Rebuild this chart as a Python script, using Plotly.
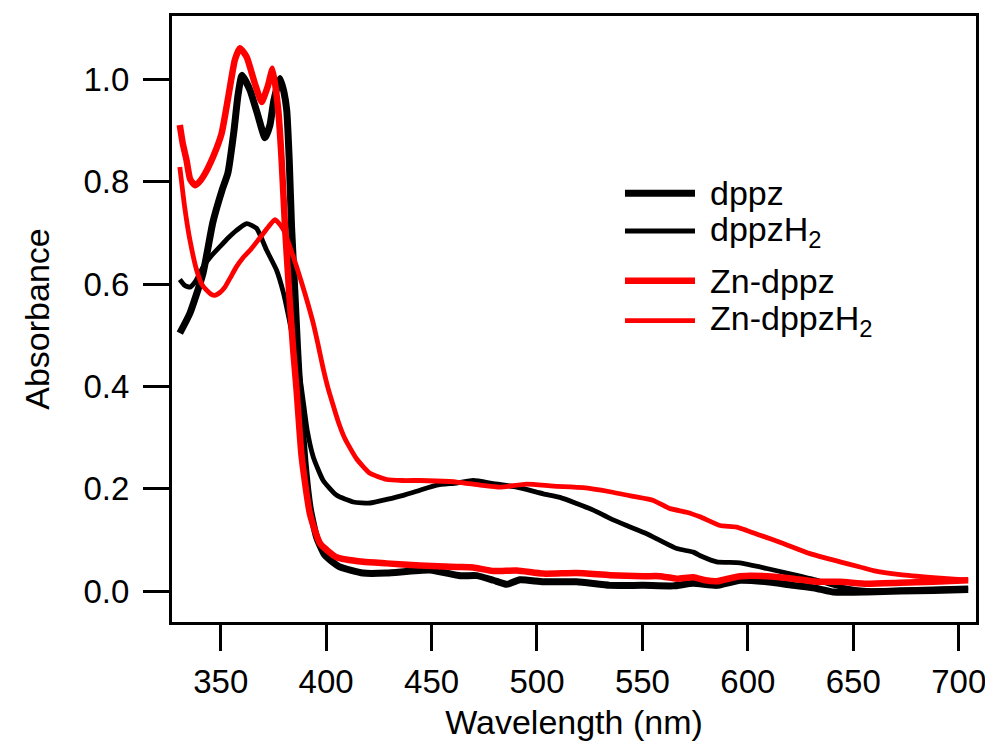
import plotly.graph_objects as go

# UV-vis absorption spectra (wavelength in nm, absorbance)
dppz_nm = [330.6, 335.4, 341.6, 346.3, 350.6, 353.4, 356.3, 358.2, 360.1, 363.9, 367.6, 371.0,
           373.3, 375.2, 378.1, 380.0, 381.3, 382.5, 383.6, 385.2, 386.5, 388.0, 390.0, 392.5,
           395.5, 399.4, 406.5, 417.5, 428.7, 449.2, 463.6, 471.4, 479.3, 485.6, 491.9, 503.0,
           518.8, 534.6, 550.3, 564.5, 574.0, 585.2, 596.3, 609.0, 621.6, 632.7, 640.6, 656.4,
           672.2, 688.0, 704.5]
dppz_abs = [0.504, 0.543, 0.621, 0.721, 0.783, 0.817, 0.900, 0.969, 1.008, 0.979, 0.930, 0.886,
            0.910, 0.959, 1.002, 0.975, 0.940, 0.842, 0.712, 0.582, 0.470, 0.360, 0.250, 0.160,
            0.105, 0.070, 0.047, 0.035, 0.035, 0.041, 0.030, 0.030, 0.021, 0.013, 0.022, 0.018,
            0.018, 0.011, 0.011, 0.010, 0.015, 0.011, 0.021, 0.018, 0.011, 0.005, -0.002, -0.002,
            0.000, 0.001, 0.003]

dppzH2_nm = [330.6, 333.0, 335.4, 338.0, 341.7, 345.5, 349.6, 353.5, 357.5, 362.3, 367.0, 371.8,
             376.5, 379.6, 383.0, 385.5, 387.5, 389.5, 391.0, 393.9, 398.6, 405.0, 412.9, 420.8,
             428.7, 436.6, 444.5, 452.4, 461.9, 469.8, 479.3, 490.4, 503.0, 510.9, 518.8, 526.7,
             534.6, 542.5, 552.0, 558.3, 566.3, 574.1, 578.0, 585.2, 596.3, 609.0, 621.6, 632.7,
             643.7, 656.4, 672.2, 688.0, 704.5]
dppzH2_abs = [0.609, 0.597, 0.594, 0.605, 0.634, 0.655, 0.673, 0.690, 0.705, 0.718, 0.709, 0.666,
              0.627, 0.585, 0.520, 0.465, 0.420, 0.360, 0.315, 0.262, 0.216, 0.187, 0.174, 0.172,
              0.179, 0.187, 0.197, 0.207, 0.211, 0.216, 0.210, 0.203, 0.190, 0.183, 0.171, 0.158,
              0.142, 0.128, 0.112, 0.099, 0.083, 0.076, 0.068, 0.057, 0.055, 0.044, 0.032, 0.021,
              0.008, 0.001, 0.002, 0.004, 0.006]

zn_dppz_nm = [330.6, 332.0, 333.8, 335.5, 337.8, 339.5, 341.7, 346.4, 350.4, 353.6, 356.7, 359.1,
              362.3, 366.2, 369.4, 372.5, 374.6, 377.3, 378.9, 380.5, 382.5, 384.4, 386.0, 388.4,
              392.3, 397.1, 405.0, 417.6, 428.7, 444.5, 461.9, 469.8, 479.3, 490.4, 503.0, 518.8,
              534.6, 550.4, 558.3, 566.3, 574.1, 580.0, 585.2, 596.3, 609.0, 621.6, 632.7, 643.7,
              656.4, 672.2, 688.0, 704.5]
zn_dppz_abs = [0.911, 0.875, 0.842, 0.805, 0.793, 0.798, 0.810, 0.849, 0.894, 0.966, 1.038, 1.061,
               1.044, 0.992, 0.956, 0.989, 1.021, 0.940, 0.842, 0.712, 0.581, 0.470, 0.392, 0.262,
               0.151, 0.093, 0.066, 0.057, 0.054, 0.050, 0.047, 0.046, 0.039, 0.040, 0.034, 0.035,
               0.031, 0.029, 0.029, 0.024, 0.027, 0.021, 0.019, 0.029, 0.029, 0.024, 0.018, 0.018,
               0.014, 0.016, 0.018, 0.021]

zn_dppzH2_nm = [330.6, 332.9, 335.4, 338.6, 341.0, 343.3, 345.5, 347.2, 349.5, 352.0, 354.5, 357.5,
                360.5, 363.9, 367.0, 370.2, 373.0, 375.7, 378.9, 380.5, 382.8, 386.0, 389.9, 393.9,
                396.0, 398.6, 401.0, 403.4, 406.0, 409.0, 414.5, 420.8, 428.7, 436.0, 444.5, 452.0,
                461.9, 473.0, 482.4, 495.1, 507.7, 521.9, 534.6, 545.7, 555.2, 563.1, 571.0, 577.3,
                586.8, 594.7, 605.8, 616.8, 629.5, 643.7, 653.2, 659.5, 672.2, 688.0, 704.5]
zn_dppzH2_abs = [0.829, 0.751, 0.686, 0.627, 0.600, 0.588, 0.580, 0.578, 0.583, 0.594, 0.612, 0.634,
                 0.651, 0.666, 0.682, 0.699, 0.714, 0.726, 0.712, 0.700, 0.673, 0.634, 0.582, 0.523,
                 0.485, 0.435, 0.395, 0.362, 0.328, 0.297, 0.258, 0.230, 0.218, 0.216, 0.216, 0.215,
                 0.213, 0.207, 0.203, 0.209, 0.205, 0.202, 0.194, 0.185, 0.177, 0.161, 0.154, 0.145,
                 0.128, 0.125, 0.109, 0.093, 0.073, 0.057, 0.047, 0.040, 0.032, 0.026, 0.021]

x_ticks = [350, 400, 450, 500, 550, 600, 650, 700]
y_ticks = [0.0, 0.2, 0.4, 0.6, 0.8, 1.0]

series = [
    ("dppz", dppz_nm, dppz_abs, "#000000", 7),
    ("dppzH<sub>2</sub>", dppzH2_nm, dppzH2_abs, "#000000", 4.8),
    ("Zn-dppz", zn_dppz_nm, zn_dppz_abs, "#ff0000", 6.5),
    ("Zn-dppzH<sub>2</sub>", zn_dppzH2_nm, zn_dppzH2_abs, "#ff0000", 4.8),
]

FONT = "Liberation Sans, Arial, Helvetica, sans-serif"

fig = go.Figure()
for name, xs, ys, color, width in series:
    fig.add_trace(go.Scatter(
        x=xs, y=ys, mode="lines", name=name, showlegend=False,
        line=dict(color=color, width=width, shape="spline", smoothing=0.5),
    ))

# Hand-built legend: long line samples with labels to their right
legend_rows = [0.7074, 0.6452, 0.5632, 0.4972]
for (name, _, _, color, width), ly in zip(series, legend_rows):
    fig.add_shape(type="line", xref="paper", yref="paper",
                  x0=0.5634, x1=0.6505, y0=ly, y1=ly,
                  line=dict(color=color, width=width))
    fig.add_annotation(xref="paper", yref="paper", x=0.6667, y=ly,
                       text=name, showarrow=False, xanchor="left", yanchor="middle",
                       font=dict(family=FONT, size=34, color="#000000"))

axis_common = dict(
    showline=True, linecolor="#000000", linewidth=3, mirror=True,
    ticks="outside", ticklen=26, tickwidth=3, tickcolor="#000000",
    showgrid=False, zeroline=False, automargin=False,
    tickfont=dict(family=FONT, size=33, color="#000000"),
)

fig.update_xaxes(
    range=[326.9, 708.2], tickvals=x_ticks, ticktext=[str(v) for v in x_ticks],
    title=dict(text="Wavelength (nm)", font=dict(family=FONT, size=34, color="#000000"), standoff=12),
    ticklabelstandoff=2, ticklabeloverflow="allow",
    **axis_common,
)
fig.update_yaxes(
    range=[-0.0606, 1.124], tickvals=y_ticks, ticktext=[f"{v:.1f}" for v in y_ticks],
    title=dict(text="Absorbance", font=dict(family=FONT, size=34, color="#000000"), standoff=24),
    ticklabelstandoff=7,
    **axis_common,
)

fig.update_layout(
    width=985, height=749,
    margin=dict(l=172, r=9, t=16, b=127),
    paper_bgcolor="#ffffff", plot_bgcolor="#ffffff",
    font=dict(family=FONT, color="#000000"),
)

fig.write_html("out.html")
